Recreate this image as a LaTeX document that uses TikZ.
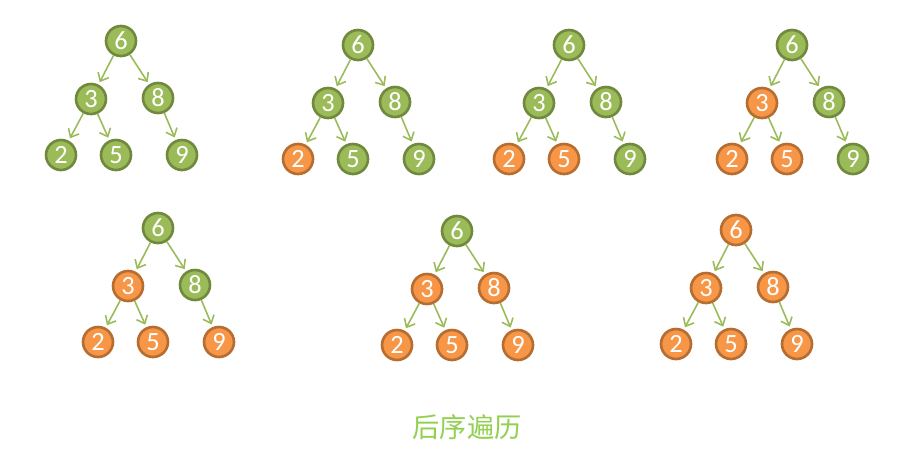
\documentclass[tikz,border=0pt]{standalone}
\usepackage{fontspec}
\setmainfont{Carlito}
\newfontfamily\cjk{Noto Sans CJK SC}
\usetikzlibrary{arrows.meta}
\definecolor{leafgreen}{RGB}{155,187,89}
\definecolor{leafedge}{RGB}{113,137,63}
\definecolor{visitfill}{RGB}{247,150,70}
\definecolor{visitedge}{RGB}{182,109,49}
\definecolor{titlegreen}{RGB}{146,208,80}
\tikzset{
    x=0.02cm, y=-0.02cm,
    key/.style={circle, minimum size=0.6cm, inner sep=0pt, line width=1.5pt,
        text=white, font=\fontsize{15}{16}\selectfont},
    todo/.style={key, draw=leafedge, fill=leafgreen},
    done/.style={key, draw=visitedge, fill=visitfill},
    link/.style={-{Straight Barb[length=1.4mm, width=2.4mm, line width=0.9pt]},
        draw=leafgreen, line width=0.9pt, shorten >=1.5pt},
}

\begin{document}
\begin{tikzpicture}
    \useasboundingbox (0,0) rectangle (919,474);

    % one tree per step: root position, then styles of 2, 5, 3, 9, 8, 6
    \foreach \tr/\rx/\ry/\sa/\sb/\sc/\sd/\se/\sf in {
        one/121/41/todo/todo/todo/todo/todo/todo,
        two/358/45/done/todo/todo/todo/todo/todo,
        three/569/45/done/done/todo/todo/todo/todo,
        four/792/45/done/done/done/todo/todo/todo,
        five/158/228/done/done/done/done/todo/todo,
        six/457/231/done/done/done/done/done/todo,
        seven/736/230/done/done/done/done/done/done}
    {
        \node[\sf] (\tr-6) at (\rx,\ry) {6};
        \node[\sc] (\tr-3) at (\rx-30,\ry+58) {3};
        \node[\se] (\tr-8) at (\rx+37,\ry+57) {8};
        \node[\sa] (\tr-2) at (\rx-60,\ry+114) {2};
        \node[\sb] (\tr-5) at (\rx-5,\ry+114) {5};
        \node[\sd] (\tr-9) at (\rx+61,\ry+114) {9};

        \draw[link] (\tr-6) -- (\tr-3);
        \draw[link] (\tr-6) -- (\tr-8);
        \draw[link] (\tr-3) -- (\tr-2);
        \draw[link] (\tr-3) -- (\tr-5);
        \draw[link] (\tr-8) -- (\tr-9);
    }

    \node[text=titlegreen, font=\cjk\fontsize{15.5}{18}\selectfont] (title) at (467,427) {后序遍历};
\end{tikzpicture}
\end{document}
